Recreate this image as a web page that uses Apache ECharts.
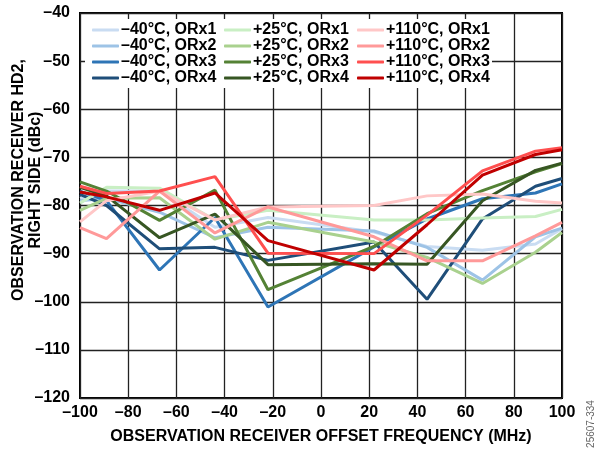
<!DOCTYPE html>
<html>
<head>
<meta charset="utf-8">
<script src="https://cdn.jsdelivr.net/npm/echarts@6/dist/echarts.min.js"></script>
<style>
    html, body {margin: 0; padding: 0; background: #fff;}
    #main {width: 598px; height: 449px;}
</style>
</head>
<body>
<div id="main"></div>
<script>
// 偏移频率 (MHz)
let offsets = [-100, -89, -67, -44, -22, 22, 44, 67, 89, 100];

// -40°C
let m40Orx1 = [-78.5, -77, -77, -84.5, -82.5, -85.5, -88.5, -89.3, -88, -84.8];
let m40Orx2 = [-79, -78.5, -81.4, -86.7, -84.5, -85.3, -88.7, -95.5, -86.5, -84.7];
let m40Orx3 = [-77, -79, -93.4, -82.5, -101.1, -88.6, -82.8, -78.6, -77.4, -75.5];
let m40Orx4 = [-77.7, -80, -89, -88.7, -91.4, -87.6, -99.5, -82.8, -76, -74.4];
// +25°C
let p25Orx1 = [-79.5, -76.2, -76.4, -83, -81, -83, -83, -82.6, -82.3, -80.8];
let p25Orx2 = [-81, -78.5, -78.4, -87, -83.5, -87.6, -90.8, -96.2, -89.7, -85.6];
let p25Orx3 = [-75.1, -77, -83.1, -76.8, -97.5, -88.5, -81.7, -76.9, -73, -71.3];
let p25Orx4 = [-76.2, -78, -86.7, -81.8, -92.3, -92.1, -92.2, -79, -72.7, -71.2];
// +110°C
let p110Orx1 = [-83.4, -79, -77, -83, -80.3, -80, -78, -77.6, -79.1, -79.5];
let p110Orx2 = [-84.6, -86.9, -77, -85.7, -80.3, -86.5, -91.5, -91.5, -86.3, -83.5];
let p110Orx3 = [-76, -77.5, -77, -74, -89.9, -90, -82, -72.8, -68.7, -68];
let p110Orx4 = [-77.2, -78.2, -81, -77.4, -87.3, -93.4, -84, -73.7, -69.4, -68.4];

let names = [
    '–40°C, ORx1', '–40°C, ORx2', '–40°C, ORx3', '–40°C, ORx4',
    '+25°C, ORx1', '+25°C, ORx2', '+25°C, ORx3', '+25°C, ORx4',
    '+110°C, ORx1', '+110°C, ORx2', '+110°C, ORx3', '+110°C, ORx4'
];
let values = [m40Orx1, m40Orx2, m40Orx3, m40Orx4, p25Orx1, p25Orx2, p25Orx3, p25Orx4,
    p110Orx1, p110Orx2, p110Orx3, p110Orx4];
let colors = ['#c9dcf2', '#9dc3e6', '#2e75b6', '#1f4e79',
    '#c9efc4', '#a9d18e', '#548235', '#375623',
    '#ffc7c7', '#ff9999', '#ff4f4f', '#c00000'];

let font = 'Arial, "Liberation Sans", sans-serif';
let dash = function (v) { return String(v).replace('-', '–'); };

let myChart = echarts.init(document.getElementById('main'));

let series = [];
for (let i = 0; i < names.length; i++) {
    let pts = [];
    for (let j = 0; j < offsets.length; j++) {
        pts.push([offsets[j], values[i][j]]);
    }
    series.push({
        name: names[i],
        type: 'line',
        data: pts,
        symbol: 'none',
        color: colors[i],
        lineStyle: {width: 3, color: colors[i]}
    });
}

// 图例 三列
let legends = [];
let legendLeft = [92, 224, 357];
for (let c = 0; c < 3; c++) {
    legends.push({
        orient: 'vertical',
        left: legendLeft[c],
        top: 22,
        itemWidth: 27,
        itemHeight: 3,
        itemGap: 0,
        icon: 'roundRect',
        padding: 0,
        data: names.slice(c * 4, c * 4 + 4),
        textStyle: {fontFamily: font, fontSize: 16, fontWeight: 'bold', color: '#000', lineHeight: 15.7, padding: [0, 0, 0, -3]}
    });
}

let option = {
    animation: false,
    backgroundColor: '#fff',
    grid: {
        left: 80, right: 36, top: 13, bottom: 51,
        outerBoundsMode: 'none', containLabel: false,
        show: true, borderColor: '#000', borderWidth: 2
    },
    legend: legends,
    xAxis: {
        type: 'value',
        min: -100,
        max: 100,
        interval: 20,
        name: 'OBSERVATION RECEIVER OFFSET FREQUENCY (MHz)',
        nameLocation: 'middle',
        nameGap: 31,
        nameTextStyle: {fontFamily: font, fontSize: 16, fontWeight: 'bold', color: '#000'},
        axisLine: {show: false},
        axisTick: {show: false},
        axisLabel: {fontFamily: font, fontSize: 16, fontWeight: 'bold', color: '#000', margin: 7, formatter: dash},
        splitLine: {lineStyle: {color: '#222', width: 1.3}}
    },
    yAxis: {
        type: 'value',
        min: -120,
        max: -40,
        interval: 10,
        axisLine: {show: false},
        axisTick: {show: false},
        axisLabel: {fontFamily: font, fontSize: 16, fontWeight: 'bold', color: '#000', margin: 10, formatter: dash},
        splitLine: {lineStyle: {color: '#222', width: 1.3}}
    },
    graphic: [
        {
            type: 'rect',
            z: 3,
            shape: {x: 85, y: 19, width: 407, height: 69},
            style: {fill: '#fff'}
        },
        {
            type: 'text',
            x: 27,
            y: 180,
            rotation: Math.PI / 2,
            style: {
                text: 'OBSERVATION RECEIVER HD2,\nRIGHT SIDE (dBc)',
                font: 'bold 16px ' + font,
                fill: '#000',
                align: 'center',
                verticalAlign: 'middle',
                lineHeight: 17
            }
        },
        {
            type: 'text',
            x: 591,
            y: 424,
            rotation: Math.PI / 2,
            style: {
                text: '25607-334',
                font: '10px ' + font,
                fill: '#666',
                align: 'center',
                verticalAlign: 'middle'
            }
        }
    ],
    series: series
};
myChart.setOption(option);
</script>
</body>
</html>
